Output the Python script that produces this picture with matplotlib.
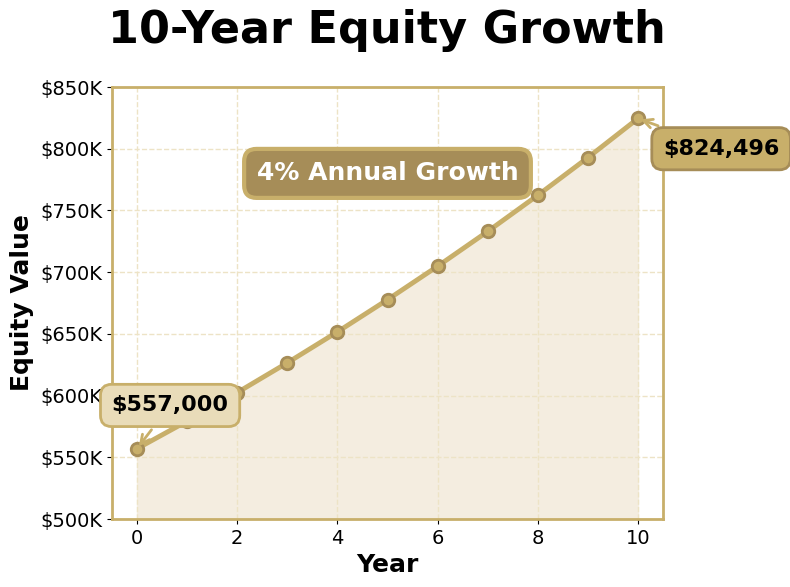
import matplotlib.pyplot as plt
from matplotlib.ticker import FuncFormatter

years = [0, 1, 2, 3, 4, 5, 6, 7, 8, 9, 10]
equity = [557000, 579280, 602451, 626549, 651611, 677675,
          704782, 732973, 762292, 792784, 824496]

LINE = "#C8AF6A"
DARK = "#A68D58"
FILL = "#F4EDE0"
GRID = "#EDE3C6"

fig = plt.figure(figsize=(7.9, 5.87), dpi=100)
ax = fig.add_axes([112 / 790, 1 - 519 / 587, (663 - 112) / 790, (519 - 87) / 587])

ax.fill_between(years, equity, 500000, color=FILL, zorder=1)
ax.plot(years, equity, color=LINE, lw=3.5, marker="o", ms=9,
        mfc=LINE, mec=DARK, mew=2, zorder=3)

ax.set_xlim(-0.5, 10.5)
ax.set_ylim(500000, 850000)
ax.set_xticks([0, 2, 4, 6, 8, 10])
ax.yaxis.set_major_formatter(FuncFormatter(lambda v, p: f"${v / 1000:.0f}K"))
ax.tick_params(labelsize=14)
ax.grid(True, ls="--", color=GRID, lw=1, zorder=0)
for s in ax.spines.values():
    s.set_color(LINE)
    s.set_linewidth(2)

ax.set_xlabel("Year", fontsize=18, fontweight="bold")
ax.set_ylabel("Equity Value", fontsize=18, fontweight="bold")
fig.text(0.49, 0.948, "10-Year Equity Growth", ha="center", va="center",
         fontsize=32, fontweight="bold")

ax.annotate(f"${equity[0]:,}", xy=(years[0], equity[0]), xytext=(0.66, 592000),
            ha="center", va="center", fontsize=16, fontweight="bold",
            bbox=dict(boxstyle="round,pad=0.5", fc="#E9DCB9", ec=LINE, lw=2),
            arrowprops=dict(arrowstyle="->", color=LINE, lw=2), zorder=5)
ax.annotate(f"${equity[-1]:,}", xy=(years[-1], equity[-1]), xytext=(11.66, 800000),
            ha="center", va="center", fontsize=16, fontweight="bold",
            bbox=dict(boxstyle="round,pad=0.5", fc=LINE, ec=DARK, lw=2),
            arrowprops=dict(arrowstyle="->", color=LINE, lw=2),
            annotation_clip=False, zorder=5)
ax.text(5, 780000, "4% Annual Growth", ha="center", va="center", fontsize=18,
        fontweight="bold", color="white", zorder=5,
        bbox=dict(boxstyle="round,pad=0.5", fc=DARK, ec=LINE, lw=3))

fig.savefig("out.png", dpi=100)
